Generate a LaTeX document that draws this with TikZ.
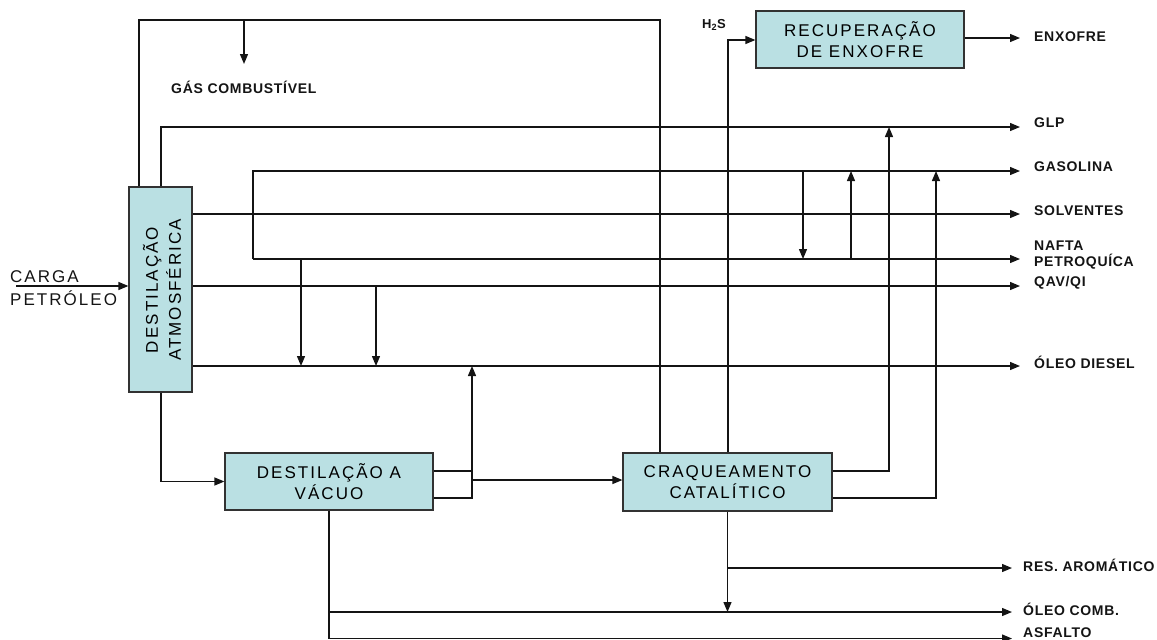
\documentclass[tikz,border=0pt]{standalone}
\usepackage{fontspec}
\setmainfont{Liberation Sans}
\newfontfamily\boxfont[LetterSpace=12]{Liberation Sans}
\newfontfamily\lblfont[LetterSpace=5]{Liberation Sans}
\usetikzlibrary{arrows.meta}
\definecolor{boxfill}{RGB}{186,224,227}
\definecolor{boxline}{RGB}{50,50,50}
\definecolor{linecol}{RGB}{20,20,20}
\tikzset{
  unit/.style={draw=boxline, fill=boxfill, line width=1.2pt, inner sep=0pt, align=center,
    font=\boxfont\fontsize{17}{21}\selectfont},
  unittext/.style={inner sep=0pt, align=center, font=\boxfont\fontsize{17}{23}\selectfont},
  flow/.style={line width=1.3pt, draw=linecol},
  arr/.style={flow, -{Triangle[length=10pt,width=8pt]}},
  lbl/.style={anchor=west, inner sep=0pt, align=left, text=linecol,
    font=\lblfont\bfseries\fontsize{14}{16}\selectfont},
  carga/.style={anchor=west, inner sep=0pt, text=linecol, font=\boxfont\fontsize{17}{21}\selectfont}
}
\begin{document}
\begin{tikzpicture}[x=1pt,y=-1pt]
\useasboundingbox (0,0) rectangle (1157,640);

% units
\node[unit, minimum width=63pt, minimum height=205pt] (atm) at (160.5,289.5) {};
\node[unittext, rotate=90] (atmtxt) at (162,290) {DESTILAÇÃO\\ATMOSFÉRICA};
\node[unit, minimum width=208pt, minimum height=57pt] (vac) at (329,481.5) {DESTILAÇÃO A\\VÁCUO};
\node[unit, minimum width=209pt, minimum height=58pt] (craq) at (727.5,482) {CRAQUEAMENTO\\CATALÍTICO};
\node[unit, minimum width=208pt, minimum height=57pt] (rec) at (860,39.5) {RECUPERAÇÃO\\DE ENXOFRE};

% labels
\node[carga] (cargatxt) at (10,277) {CARGA};
\node[carga] (petrtxt) at (10,298) {PETRÓLEO};
\node[lbl] (gas) at (171,87) {GÁS COMBUSTÍVEL};
\node[lbl, font=\lblfont\bfseries\fontsize{13}{14}\selectfont] (h2s) at (702,25) {H\textsubscript{2}S};
\node[lbl] (enx) at (1034,37) {ENXOFRE};
\node[lbl] (glp) at (1034,123) {GLP};
\node[lbl] (gasol) at (1034,167) {GASOLINA};
\node[lbl] (solv) at (1034,211) {SOLVENTES};
\node[lbl] (nafta) at (1034,255) {NAFTA\\PETROQUÍCA};
\node[lbl] (qav) at (1034,283) {QAV/QI};
\node[lbl] (diesel) at (1034,362) {ÓLEO DIESEL};
\node[lbl] (res) at (1023,565) {RES. AROMÁTICO};
\node[lbl] (oleoc) at (1023,609) {ÓLEO COMB.};
\node[lbl] (asf) at (1023,633) {ASFALTO};

% outlet coordinates
\coordinate (oENX) at (1020,38);
\coordinate (oGLP) at (1020,127);
\coordinate (oGAS) at (1020,171);
\coordinate (oSOL) at (1020,214);
\coordinate (oNAF) at (1020,259);
\coordinate (oQAV) at (1020,286);
\coordinate (oDIE) at (1020,366);
\coordinate (oRES) at (1012,568);
\coordinate (oOC) at (1012,612);
\coordinate (oASF) at (1012,638.5);
\coordinate (cin) at (16,286);
\coordinate (rtop) at (660,20);
\coordinate (gsrc) at (244,20);
\coordinate (gdst) at (244,64);
\coordinate (loop) at (253,259);
\coordinate (vj) at (472,480);

% connectors
\draw[arr] (cin) -- (cin -| atm.west);
\draw[flow] (atm.north -| 139,0) |- (rtop) -- (craq.north -| rtop);
\draw[arr] (gsrc) -- (gdst);
\draw[arr] (atm.north -| 161,0) |- (oGLP);
\draw[arr] (loop) |- (oGAS);
\draw[arr] (loop) -- (oNAF);
\draw[arr] (atm.east |- oSOL) -- (oSOL);
\draw[arr] (atm.east |- oQAV) -- (oQAV);
\draw[arr] (atm.east |- oDIE) -- (oDIE);
\draw[arr] (oNAF -| 301,0) -- (oDIE -| 301,0);
\draw[arr] (oQAV -| 376,0) -- (oDIE -| 376,0);
\draw[arr] (oGAS -| 803,0) -- (oNAF -| 803,0);
\draw[arr] (oNAF -| 851,0) -- (oGAS -| 851,0);
\draw[arr] (atm.south -| 161,0) |- (vac.west);
\draw[flow] (vac.east |- 0,471) -| (vj);
\draw[flow] (vac.east |- 0,498) -| (vj);
\draw[arr] (vj) -- (craq.west |- vj);
\draw[arr] (vj) -- (oDIE -| vj);
\draw[arr] (craq.east |- 0,471) -| (oGLP -| 889,0);
\draw[arr] (craq.east |- 0,498) -| (oGAS -| 936,0);
\draw[arr] (craq.north -| 728,0) |- (rec.west |- 0,40);
\draw[arr] (rec.east |- oENX) -- (oENX);
\draw[arr] (craq.south) -- (oOC -| craq.south);
\draw[arr] (oRES -| craq.south) -- (oRES);
\draw[arr] (vac.south) |- (oASF);
\draw[arr] (oOC -| vac.south) -- (oOC);
\end{tikzpicture}
\end{document}
